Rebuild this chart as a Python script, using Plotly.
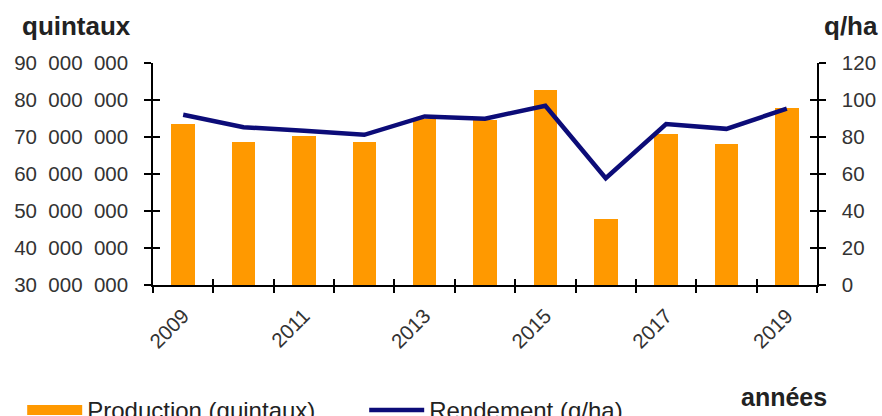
import plotly.graph_objects as go

years = [2009, 2010, 2011, 2012, 2013, 2014, 2015, 2016, 2017, 2018, 2019]
production = [73.6e6, 68.6e6, 70.4e6, 68.6e6, 74.9e6, 74.7e6, 82.8e6, 47.9e6, 70.8e6, 68.1e6, 77.8e6]
rendement = [92.0, 85.3, 83.4, 81.2, 91.1, 89.9, 96.9, 57.7, 87.0, 84.4, 95.3]

left_ticks = [30e6, 40e6, 50e6, 60e6, 70e6, 80e6, 90e6]
left_text = ["30\u2007000\u2007000", "40\u2007000\u2007000", "50\u2007000\u2007000",
             "60\u2007000\u2007000", "70\u2007000\u2007000", "80\u2007000\u2007000",
             "90\u2007000\u2007000"]
right_ticks = [0, 20, 40, 60, 80, 100, 120]
label_years = years[::2]
boundaries = [y - 0.5 for y in years] + [years[-1] + 0.5]

FONT = "Liberation Sans, Arial, sans-serif"
TICKFONT = dict(family=FONT, size=20.5, color="#333333")
ORANGE = "#FF9900"
NAVY = "#0c0c78"

fig = go.Figure()
fig.add_trace(go.Bar(x=years, y=production, name="Production (quintaux)",
                     marker=dict(color=ORANGE, line=dict(width=0)), width=0.39,
                     xaxis="x", yaxis="y", legendgroup="prod", showlegend=False))
# legend entry for the bars (wide swatch like the original)
fig.add_trace(go.Scatter(x=[None], y=[None], name="Production (quintaux)", mode="lines",
                         line=dict(color=ORANGE, width=13), legendgroup="prod",
                         hoverinfo="skip", xaxis="x", yaxis="y"))
fig.add_trace(go.Scatter(x=years, y=rendement, name="Rendement (q/ha)", mode="lines",
                         line=dict(color=NAVY, width=4.5), xaxis="x", yaxis="y2"))
# empty helper traces so that the overlay tick axes get drawn
for xa, ya in [("x3", "y"), ("x4", "y"), ("x", "y3"), ("x", "y4")]:
    fig.add_trace(go.Scatter(x=[], y=[], xaxis=xa, yaxis=ya, showlegend=False,
                             hoverinfo="skip"))

xr = [years[0] - 0.5, years[-1] + 0.5]
common_axis = dict(showgrid=False, zeroline=False, tickcolor="black", tickwidth=1.5)

fig.update_layout(
    width=882, height=416,
    margin=dict(l=153, r=65, t=63, b=131, autoexpand=False),
    paper_bgcolor="white", plot_bgcolor="white",
    font=dict(family=FONT, color="#222222"),
    bargap=0,
    xaxis=dict(range=xr, tickmode="array", tickvals=boundaries, ticks="outside", ticklen=6,
               showticklabels=False, showline=True, linecolor="black", linewidth=1.5,
               **common_axis),
    xaxis3=dict(range=xr, overlaying="x", anchor="y", side="bottom", tickmode="array",
                tickvals=boundaries, ticks="inside", ticklen=6, showticklabels=False,
                showline=False, **common_axis),
    xaxis4=dict(range=xr, overlaying="x", anchor="y", side="bottom", tickmode="array",
                tickvals=label_years, ticktext=[str(y) for y in label_years], ticks="",
                tickangle=-45, tickfont=TICKFONT, ticklabelstandoff=14,
                showline=False, showgrid=False, zeroline=False),
    yaxis=dict(range=[30e6, 90e6], tickmode="array", tickvals=left_ticks, ticktext=left_text,
               ticks="outside", ticklen=7, tickfont=TICKFONT, ticklabelstandoff=12,
               showline=True, linecolor="black", linewidth=1.5, **common_axis),
    yaxis3=dict(range=[30e6, 90e6], overlaying="y", anchor="x", side="left", tickmode="array",
                tickvals=left_ticks, ticks="inside", ticklen=7, showticklabels=False,
                showline=False, **common_axis),
    yaxis2=dict(range=[0, 120], overlaying="y", anchor="x", side="right", tickmode="array",
                tickvals=right_ticks, ticks="outside", ticklen=7, tickfont=TICKFONT,
                ticklabelstandoff=12,
                showline=True, linecolor="black", linewidth=1.5, **common_axis),
    yaxis4=dict(range=[0, 120], overlaying="y", anchor="x", side="right", tickmode="array",
                tickvals=right_ticks, ticks="inside", ticklen=7, showticklabels=False,
                showline=False, **common_axis),
    legend=dict(orientation="h", x=-0.197, xanchor="left", y=-0.464, yanchor="top",
                font=dict(family=FONT, size=24, color="#222222"),
                entrywidth=272, entrywidthmode="pixels", itemwidth=55,
                bgcolor="rgba(0,0,0,0)", traceorder="normal"),
    annotations=[
        dict(text="<b>quintaux</b>", xref="paper", yref="paper", x=-0.2, y=1.167,
             xanchor="left", yanchor="middle", showarrow=False,
             font=dict(family=FONT, size=26, color="#222222")),
        dict(text="<b>q/ha</b>", xref="paper", yref="paper", x=1.095, y=1.167,
             xanchor="right", yanchor="middle", showarrow=False,
             font=dict(family=FONT, size=26, color="#222222")),
        dict(text="<b>années</b>", xref="paper", yref="paper", x=0.95, y=-0.505,
             xanchor="center", yanchor="middle", showarrow=False,
             font=dict(family=FONT, size=25, color="#222222")),
    ],
)

fig.write_html("out.html",
               config={"displayModeBar": False},
               post_script="document.body.style.margin='0';"
                           "document.body.style.overflow='hidden';")
